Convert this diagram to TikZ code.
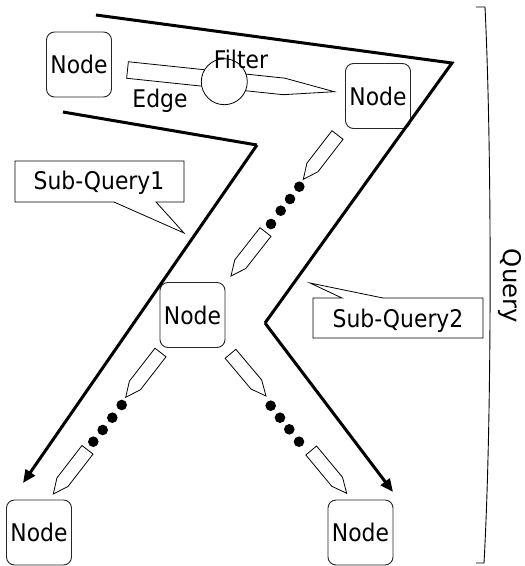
\documentclass[tikz,border=0pt]{standalone}
\usepackage{fontspec}
\newfontfamily\labfont{DejaVu Sans}[FakeStretch=0.9]
\newfontfamily\sidefont{DejaVu Sans}
\usetikzlibrary{calc,arrows.meta}

% hollow pencil-shaped edge: name, back point, tip point, half width, tip length
\newcommand\edgeglyph[5]{%
  \coordinate (#1-e) at ($(#3)!#5!(#2)$);
  \draw[glyph] ($(#2)!#4!90:(#3)$) -- ($(#1-e)!#4!90:(#3)$) -- (#3)
    -- ($(#1-e)!#4!-90:(#3)$) -- ($(#2)!#4!-90:(#3)$) -- cycle;}

\tikzset{
  graphnode/.style={draw=black!85, line width=0.9pt, rounded corners=8pt,
    minimum width=65pt, minimum height=65pt, inner sep=0pt,
    font=\labfont\fontsize{24.3}{29}\selectfont},
  lbl/.style={inner sep=0pt, anchor=base, font=\labfont\fontsize{24.3}{29}\selectfont},
  glyph/.style={draw=black, line width=0.8pt, fill=white, line join=miter},
  bound/.style={line width=3pt, line join=miter},
  boundarrow/.style={bound, -{Triangle[length=13pt,width=11pt]}},
  callout/.style={draw=black, line width=0.8pt, fill=white},
  dotmark/.style={fill=black},
}

\begin{document}
\begin{tikzpicture}[x=1pt,y=-1pt]
\useasboundingbox (0,0) rectangle (525,566);

% graph nodes
\node[graphnode] (n1) at (79,64.5) {Node};
\node[graphnode] (n2) at (378,96) {Node};
\node[graphnode] (n3) at (192.5,315) {Node};
\node[graphnode] (n4) at (39,532.5) {Node};
\node[graphnode] (n5) at (360.5,532.5) {Node};

% end points of the edge glyphs
\coordinate (top-b) at (127.5,70);    \coordinate (top-t) at (334.3,91.7);
\coordinate (ea-b) at (337.5,135);    \coordinate (ea-t) at (303.3,179.3);
\coordinate (eb-b) at (265.5,232);    \coordinate (eb-t) at (231,276);
\coordinate (ec-b) at (160.5,352.5);  \coordinate (ec-t) at (125.7,397.3);
\coordinate (ed-b) at (87.5,449.8);   \coordinate (ed-t) at (53.3,494);
\coordinate (ee-b) at (230.5,353.8);  \coordinate (ee-t) at (266,396);
\coordinate (ef-b) at (311.2,450.5);  \coordinate (ef-t) at (346.7,493.3);

% first-level edge with its filter
\edgeglyph{top}{top-b}{top-t}{8.3pt}{50.6pt}
\node[draw=black, line width=0.8pt, fill=white, circle, minimum size=46pt, inner sep=0pt] (filt) at (224.3,81.7) {};
\node[lbl] (filtlbl) at (241,68.3) {Filter};
\node[lbl] (edgelbl) at (160,107.3) {Edge};

% chains of edges
\edgeglyph{ea}{ea-b}{ea-t}{7pt}{15pt}
\edgeglyph{eb}{eb-b}{eb-t}{7pt}{15pt}
\edgeglyph{ec}{ec-b}{ec-t}{7pt}{15pt}
\edgeglyph{ed}{ed-b}{ed-t}{7pt}{15pt}
\edgeglyph{ee}{ee-b}{ee-t}{7pt}{15pt}
\edgeglyph{ef}{ef-b}{ef-t}{7pt}{15pt}

\foreach \p in {(299.3,186.7),(290,199),(280.7,210.7),(271,224),
                (121.7,405),(112.3,417.7),(102.7,430),(93.3,441.7),
                (270.7,405.7),(280,417.7),(289.3,429.3),(299,441.7)}
  \fill[dotmark] \p circle [radius=5.3];

% sub-query boundaries
\coordinate (ra) at (96,15);  \coordinate (rb) at (452,63);
\coordinate (rc) at (265,323); \coordinate (rd) at (393,492);
\coordinate (la) at (63,112); \coordinate (lb) at (257,145);
\coordinate (lc) at (23,483);
\draw[bound] (ra) -- (rb) -- (rc);
\draw[boundarrow] (rc) -- (rd);
\draw[bound] (la) -- (lb);
\draw[boundarrow] (lb) -- (lc);

% callouts
\draw[callout] (15,161) -- (184,161) -- (184,202) -- (156,202) -- (184,233)
  -- (114,202) -- (15,202) -- cycle;
\node[lbl] (sq1) at (99,189.3) {Sub-Query1};
\draw[callout] (313,298) -- (342,298) -- (310,283) -- (383,298) -- (483,298)
  -- (483,338) -- (313,338) -- cycle;
\node[lbl] (sq2) at (398,327.3) {Sub-Query2};

% query bracket
\draw[line width=0.9pt] (476,7) -- (485,7) .. controls (492,150) and (492,420) .. (484,563) -- (476,563);
\node[inner sep=0pt, anchor=base, rotate=-90, font=\sidefont\fontsize{24.3}{29}\selectfont] (q) at (503,285.8) {Query};
\end{tikzpicture}
\end{document}
